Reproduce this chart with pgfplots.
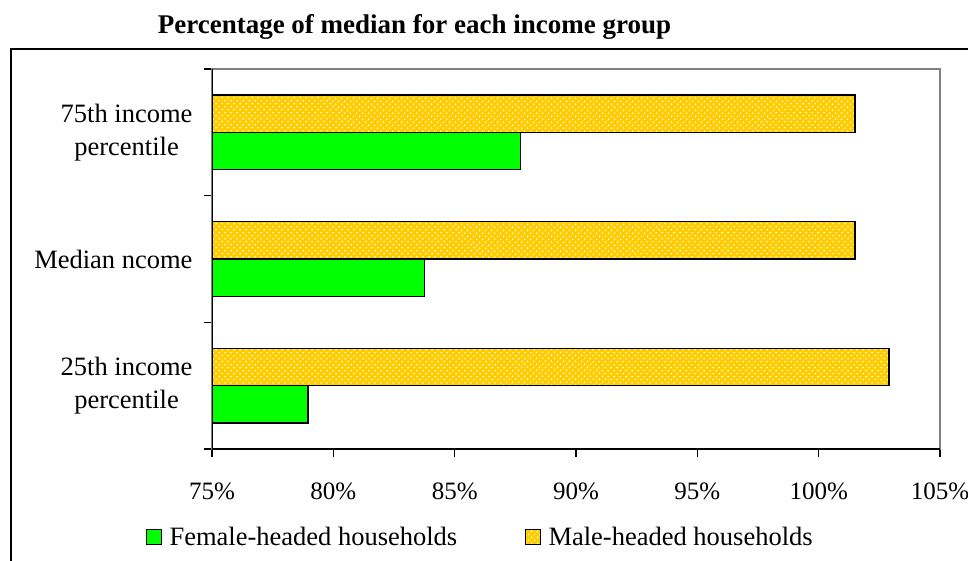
\documentclass[border=0pt]{standalone}
\usepackage{pgfplots}
\pgfplotsset{compat=1.18}
\usepackage{fontspec}
\setmainfont{Liberation Serif}
\usetikzlibrary{patterns.meta}
\definecolor{fgreen}{RGB}{0,255,0}
\definecolor{gold}{RGB}{255,204,0}
\definecolor{framegray}{RGB}{128,128,128}
\begin{document}
\begin{tikzpicture}[x=1pt,y=1pt]
\useasboundingbox (0,0) rectangle (968,-560);
\begin{scope}
\clip (0,0) rectangle (968,-560);
\draw[line width=2pt] (11,-570) -- (11,-49) -- (980,-49);
\end{scope}
\node[anchor=base, font=\fontsize{27}{32}\selectfont\bfseries] at (414.5,-33) {Percentage of median for each income group};
\begin{axis}[
  at={(212pt,-449pt)}, anchor=south west,
  scale only axis, width=728pt, height=380pt,
  xbar, bar width=0.294,
  xmin=75, xmax=105, ymin=-0.5, ymax=2.5,
  xtick={75,80,...,105},
  xticklabels={75\%,80\%,85\%,90\%,95\%,100\%,105\%},
  ytick={0,1,2},
  yticklabels={{25th income\\percentile},{Median ncome},{75th income\\percentile}},
  minor ytick={-0.5,0.5,1.5,2.5},
  xtick pos=left, ytick pos=left,
  tick align=outside,
  major tick length=8pt, minor tick length=8pt,
  tick style={black, line width=1.3pt},
  every major y tick/.append style={draw=none},
  axis line style={draw=framegray, line width=1.5pt},
  tick label style={font=\fontsize{26.5}{33}\selectfont},
  xticklabel style={font=\fontsize{25}{30}\selectfont, yshift=-22pt},
  yticklabel style={align=center, xshift=-8pt},
  legend style={at={(0.3688,-0.2316)}, anchor=center, draw=none, fill=none,
    legend columns=2, font=\fontsize{26.5}{33}\selectfont,
    /tikz/every even column/.append style={column sep=66pt}},
  legend image code/.code={\draw[#1,line width=1.2pt,draw=black] (0pt,-7.5pt) rectangle (15pt,7.5pt);\path (20pt,0pt);},
]
\addplot[fill=fgreen, draw=black, line width=1.3pt, bar shift=-0.147]
  coordinates {(78.95,0) (83.75,1) (87.7,2)};
\addlegendentry{Female-headed households}
\addplot[fill=gold, draw=black, line width=1.3pt, bar shift=0.147,
  postaction={pattern={Dots[distance=4pt,radius=0.9pt,angle=45]}, pattern color=white}]
  coordinates {(102.9,0) (101.5,1) (101.5,2)};
\addlegendentry{Male-headed households}
\draw[black, line width=1.8pt] (rel axis cs:0,1) -- (rel axis cs:0,0) -- (rel axis cs:1,0);
\end{axis}
\end{tikzpicture}
\end{document}
